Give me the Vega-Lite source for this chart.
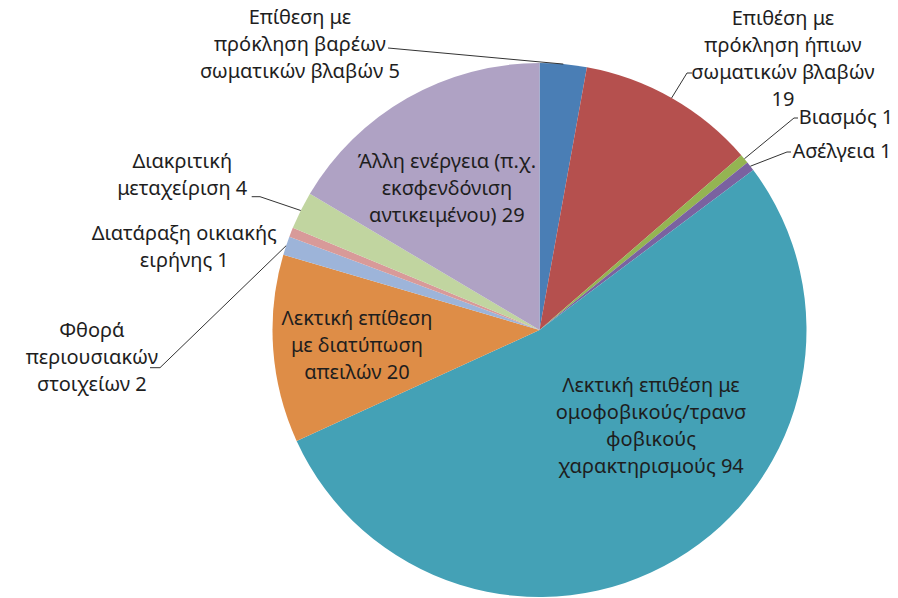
{
  "$schema": "https://vega.github.io/schema/vega-lite/v6.json",
  "autosize": {"type": "none"},
  "width": 717,
  "height": 536,
  "padding": {"left": 181, "top": 62, "right": 0, "bottom": 0},
  "background": "white",
  "view": {"stroke": null},
  "config": {
    "text": {"font": "Noto Sans", "fontSize": 20, "lineHeight": 27, "lineBreak": "\n", "fill": "#1e1e1e", "align": "center", "baseline": "middle"}
  },
  "data": {
    "values": [
      {"category": "Επίθεση με πρόκληση βαρέων σωματικών βλαβών", "value": 5, "label": "Επίθεση με\nπρόκληση βαρέων\nσωματικών βλαβών 5"},
      {"category": "Επιθέση με πρόκληση ήπιων σωματικών βλαβών", "value": 19, "label": "Επιθέση με\nπρόκληση ήπιων\nσωματικών βλαβών\n19"},
      {"category": "Βιασμός", "value": 1, "label": "Βιασμός 1"},
      {"category": "Ασέλγεια", "value": 1, "label": "Ασέλγεια 1"},
      {"category": "Λεκτική επιθέση με ομοφοβικούς/τρανσφοβικούς χαρακτηρισμούς", "value": 94, "label": "Λεκτική επιθέση με\nομοφοβικούς/τρανσ\nφοβικούς\nχαρακτηρισμούς 94"},
      {"category": "Λεκτική επίθεση με διατύπωση απειλών", "value": 20, "label": "Λεκτική επίθεση\nμε διατύπωση\nαπειλών 20"},
      {"category": "Φθορά περιουσιακών στοιχείων", "value": 2, "label": "Φθορά\nπεριουσιακών\nστοιχείων 2"},
      {"category": "Διατάραξη οικιακής ειρήνης", "value": 1, "label": "Διατάραξη οικιακής\nειρήνης 1"},
      {"category": "Διακριτική μεταχείριση", "value": 4, "label": "Διακριτική\nμεταχείριση 4"},
      {"category": "Άλλη ενέργεια (π.χ. εκσφενδόνιση αντικειμένου)", "value": 29, "label": "Άλλη ενέργεια (π.χ.\nεκσφενδόνιση\nαντικειμένου) 29"}
    ]
  },
  "transform": [
    {"window": [{"op": "row_number", "as": "idx"}]},
    {"joinaggregate": [{"op": "sum", "field": "value", "as": "total"}]},
    {"window": [{"op": "sum", "field": "value", "as": "cum"}], "sort": [{"field": "idx"}], "frame": [null, 0]},
    {"calculate": "(datum.cum - datum.value / 2) / datum.total * 2 * PI", "as": "a"}
  ],
  "layer": [
    {
      "mark": {"type": "arc", "outerRadius": 267},
      "encoding": {
        "theta": {"field": "value", "type": "quantitative", "stack": true},
        "order": {"field": "idx", "type": "quantitative"},
        "color": {
          "field": "category", "type": "nominal", "legend": null,
          "scale": {
            "domain": ["Επίθεση με πρόκληση βαρέων σωματικών βλαβών", "Επιθέση με πρόκληση ήπιων σωματικών βλαβών", "Βιασμός", "Ασέλγεια", "Λεκτική επιθέση με ομοφοβικούς/τρανσφοβικούς χαρακτηρισμούς", "Λεκτική επίθεση με διατύπωση απειλών", "Φθορά περιουσιακών στοιχείων", "Διατάραξη οικιακής ειρήνης", "Διακριτική μεταχείριση", "Άλλη ενέργεια (π.χ. εκσφενδόνιση αντικειμένου)"],
            "range": ["#4A7EB5", "#B5504E", "#94B452", "#7A62A0", "#44A1B6", "#DE8D47", "#9DB4D9", "#D89A99", "#C1D5A0", "#AFA2C4"]
          }
        }
      }
    },
    {
      "transform": [
        {"filter": "indexof([1, 2, 3, 4, 7, 9], datum.idx) >= 0"},
        {"calculate": "267 * sin(datum.a)", "as": "ax"},
        {"calculate": "267 * cos(datum.a)", "as": "ay"},
        {"calculate": "[-151.5, 147.5, 254.5, 247.5, 0, 0, -379.5, 0, -279.5, 0][datum.idx - 1]", "as": "ex"},
        {"calculate": "[282, 257, 212, 178, 0, 0, -37.7, 0, 133.3, 0][datum.idx - 1]", "as": "ey"}
      ],
      "mark": {"type": "rule", "color": "#333333", "strokeWidth": 1},
      "encoding": {
        "x": {"field": "ax", "type": "quantitative", "axis": null, "scale": {"domain": [-358.5, 358.5], "nice": false, "zero": false}},
        "y": {"field": "ay", "type": "quantitative", "axis": null, "scale": {"domain": [-268, 268], "nice": false, "zero": false}},
        "x2": {"field": "ex"},
        "y2": {"field": "ey"}
      }
    },
    {
      "transform": [
        {"filter": "indexof([2, 3, 4, 7, 9], datum.idx) >= 0"},
        {"calculate": "[0, 147.5, 254.5, 247.5, 0, 0, -379.5, 0, -279.5, 0][datum.idx - 1]", "as": "ex"},
        {"calculate": "[0, 257, 212, 178, 0, 0, -37.7, 0, 133.3, 0][datum.idx - 1]", "as": "ey"},
        {"calculate": "[0, 152.5, 258.5, 251.5, 0, 0, -389.5, 0, -287.8, 0][datum.idx - 1]", "as": "tx"}
      ],
      "mark": {"type": "rule", "color": "#333333", "strokeWidth": 1},
      "encoding": {
        "x": {"field": "ex", "type": "quantitative", "axis": null, "scale": {"domain": [-358.5, 358.5], "nice": false, "zero": false}},
        "y": {"field": "ey", "type": "quantitative", "axis": null, "scale": {"domain": [-268, 268], "nice": false, "zero": false}},
        "x2": {"field": "tx"}
      }
    },
    {
      "mark": {"type": "text", "radius": 285, "dx": -265, "dy": -28},
      "encoding": {
        "theta": {"field": "value", "type": "quantitative", "stack": true},
        "order": {"field": "idx", "type": "quantitative"},
        "detail": {"field": "category", "type": "nominal"},
        "text": {"condition": {"test": "datum.idx === 1", "field": "label"}, "value": ""}
      }
    },
    {
      "mark": {"type": "text", "radius": 300, "dx": 95, "dy": -50.5},
      "encoding": {
        "theta": {"field": "value", "type": "quantitative", "stack": true},
        "order": {"field": "idx", "type": "quantitative"},
        "detail": {"field": "category", "type": "nominal"},
        "text": {"condition": {"test": "datum.idx === 2", "field": "label"}, "value": ""}
      }
    },
    {
      "mark": {"type": "text", "radius": 300, "dx": 29, "dy": -20, "align": "left"},
      "encoding": {
        "theta": {"field": "value", "type": "quantitative", "stack": true},
        "order": {"field": "idx", "type": "quantitative"},
        "detail": {"field": "category", "type": "nominal"},
        "text": {"condition": {"test": "datum.idx === 3", "field": "label"}, "value": ""}
      }
    },
    {
      "mark": {"type": "text", "radius": 300, "dx": 16, "dy": 6, "align": "left"},
      "encoding": {
        "theta": {"field": "value", "type": "quantitative", "stack": true},
        "order": {"field": "idx", "type": "quantitative"},
        "detail": {"field": "category", "type": "nominal"},
        "text": {"condition": {"test": "datum.idx === 4", "field": "label"}, "value": ""}
      }
    },
    {
      "mark": {"type": "text", "radius": 147, "dx": 36.5, "dy": -70.5},
      "encoding": {
        "theta": {"field": "value", "type": "quantitative", "stack": true},
        "order": {"field": "idx", "type": "quantitative"},
        "detail": {"field": "category", "type": "nominal"},
        "text": {"condition": {"test": "datum.idx === 5", "field": "label"}, "value": ""}
      }
    },
    {
      "mark": {"type": "text", "radius": 183, "dx": 0, "dy": -24},
      "encoding": {
        "theta": {"field": "value", "type": "quantitative", "stack": true},
        "order": {"field": "idx", "type": "quantitative"},
        "detail": {"field": "category", "type": "nominal"},
        "text": {"condition": {"test": "datum.idx === 6", "field": "label"}, "value": ""}
      }
    },
    {
      "mark": {"type": "text", "radius": 300, "dx": -163, "dy": 96},
      "encoding": {
        "theta": {"field": "value", "type": "quantitative", "stack": true},
        "order": {"field": "idx", "type": "quantitative"},
        "detail": {"field": "category", "type": "nominal"},
        "text": {"condition": {"test": "datum.idx === 7", "field": "label"}, "value": ""}
      }
    },
    {
      "mark": {"type": "text", "radius": 300, "dx": -76, "dy": 13.5},
      "encoding": {
        "theta": {"field": "value", "type": "quantitative", "stack": true},
        "order": {"field": "idx", "type": "quantitative"},
        "detail": {"field": "category", "type": "nominal"},
        "text": {"condition": {"test": "datum.idx === 8", "field": "label"}, "value": ""}
      }
    },
    {
      "mark": {"type": "text", "radius": 300, "dx": -89, "dy": -33.5},
      "encoding": {
        "theta": {"field": "value", "type": "quantitative", "stack": true},
        "order": {"field": "idx", "type": "quantitative"},
        "detail": {"field": "category", "type": "nominal"},
        "text": {"condition": {"test": "datum.idx === 9", "field": "label"}, "value": ""}
      }
    },
    {
      "mark": {"type": "text", "radius": 169, "dx": -9, "dy": -21},
      "encoding": {
        "theta": {"field": "value", "type": "quantitative", "stack": true},
        "order": {"field": "idx", "type": "quantitative"},
        "detail": {"field": "category", "type": "nominal"},
        "text": {"condition": {"test": "datum.idx === 10", "field": "label"}, "value": ""}
      }
    }
  ]
}
